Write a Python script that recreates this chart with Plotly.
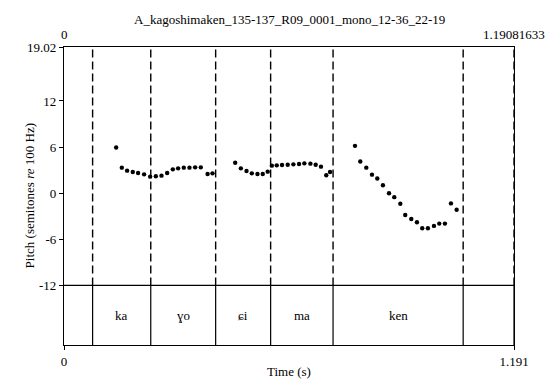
import plotly.graph_objects as go

# pitch track (s, semitones re 100 Hz)
pitch_t = [0.138, 0.153, 0.167, 0.182, 0.196, 0.212, 0.228, 0.243, 0.258, 0.273,
           0.288, 0.302, 0.317, 0.332, 0.347, 0.362, 0.380, 0.393,
           0.453, 0.468, 0.483, 0.497, 0.512, 0.526, 0.539, 0.550, 0.563, 0.577,
           0.592, 0.607, 0.622, 0.636, 0.652, 0.666, 0.680, 0.694, 0.704,
           0.770, 0.784, 0.800, 0.815, 0.829, 0.844, 0.860, 0.874, 0.890, 0.903,
           0.919, 0.934, 0.948, 0.963, 0.979, 0.993, 1.008, 1.024, 1.039]
pitch_st = [5.94, 3.32, 2.93, 2.75, 2.62, 2.45, 2.15, 2.20, 2.28, 2.62,
            3.10, 3.23, 3.32, 3.32, 3.36, 3.36, 2.50, 2.58,
            3.96, 3.23, 2.88, 2.58, 2.50, 2.50, 2.80, 3.58, 3.62, 3.66,
            3.70, 3.75, 3.79, 3.88, 3.84, 3.70, 3.45, 2.33, 2.75,
            6.16, 4.13, 3.32, 2.41, 1.90, 1.03, 0.00, -0.52, -1.38, -2.84,
            -3.36, -3.79, -4.56, -4.56, -4.26, -3.96, -3.96, -1.33, -2.15]

# interval boundaries and labels of the syllable tier
bounds = [0.0757, 0.2296, 0.4013, 0.5468, 0.712, 1.0563, 1.19081633]
syllables = ["ka", "ɣo", "ɕi", "ma", "ken"]

t_end = 1.19081633
y_top = 19.02
y_tier = -12
y_bot = -19.755
ytick_vals = [19.02, 12, 6, 0, -6, -12]
ytick_text = ["19.02", "12", "6", "0", "-6", "-12"]

FONT = "Liberation Serif, Times New Roman, serif"


def txt(size=13):
    return dict(family=FONT, size=size, color="black")


fig = go.Figure()
fig.add_trace(go.Scatter(
    x=pitch_t, y=pitch_st, mode="markers",
    marker=dict(color="black", size=4.4),
    showlegend=False, hoverinfo="x+y",
))

shapes = []
for b in bounds:
    # dashed in pitch area, solid in tier
    shapes.append(dict(type="line", xref="x", yref="y", x0=b, x1=b, y0=y_tier, y1=y_top,
                       line=dict(color="black", width=1.4, dash="8px,4px")))
    shapes.append(dict(type="line", xref="x", yref="y", x0=b, x1=b, y0=y_bot, y1=y_tier,
                       line=dict(color="black", width=1.2)))
shapes.append(dict(type="line", xref="x", yref="y", x0=0, x1=t_end, y0=y_tier, y1=y_tier,
                   line=dict(color="black", width=1.2)))

annotations = []
for i, s in enumerate(syllables):
    annotations.append(dict(x=(bounds[i] + bounds[i + 1]) / 2, y=(y_tier + y_bot) / 2,
                            xref="x", yref="y", text=s, showarrow=False, font=txt()))
# top time labels
annotations.append(dict(x=0, y=1, xref="x", yref="paper", yanchor="middle", yshift=13,
                        text="0", showarrow=False, font=txt()))
annotations.append(dict(x=t_end, y=1, xref="x", yref="paper", yanchor="middle", yshift=13,
                        text="1.19081633", showarrow=False, font=txt()))
annotations.append(dict(x=0.5, y=1, xref="paper", yref="paper", yanchor="middle", yshift=28,
                        text="A_kagoshimaken_135-137_R09_0001_mono_12-36_22-19",
                        showarrow=False, font=txt()))
annotations.append(dict(x=0.5, y=0, xref="paper", yref="paper", yanchor="middle", yshift=-26,
                        text="Time (s)", showarrow=False, font=txt()))
annotations.append(dict(x=-0.098, y=0.5, xref="paper", yref="paper", textangle=-90,
                        text="Pitch (semitones <i>re</i> 100 Hz)", showarrow=False,
                        font=txt()))

# page body has an 8px margin, so the figure is sized/offset to compensate
fig.update_layout(
    width=546, height=373,
    margin=dict(l=56, r=40, t=39, b=34),
    paper_bgcolor="white", plot_bgcolor="white",
    font=txt(),
    shapes=shapes, annotations=annotations,
    xaxis=dict(range=[0, t_end], showgrid=False, zeroline=False,
               showline=True, mirror=True, linecolor="black", linewidth=1.2,
               tickmode="array", tickvals=[0, t_end], ticktext=["0", "1.191"],
               ticks="outside", ticklen=4, tickcolor="black"),
    yaxis=dict(range=[y_bot, y_top], showgrid=False, zeroline=False,
               showline=True, mirror=True, linecolor="black", linewidth=1.2,
               tickmode="array", tickvals=ytick_vals, ticktext=ytick_text,
               ticks="outside", ticklen=4, tickcolor="black"),
)

fig.write_html("out.html")
